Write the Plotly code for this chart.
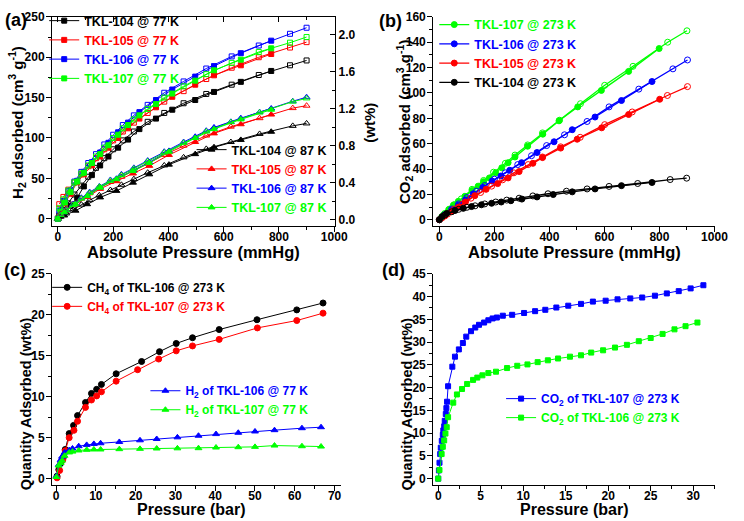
import plotly.graph_objects as go

FONT = "Liberation Sans, Arial, sans-serif"
BLACK, RED, BLUE, GREEN = "#000000", "#FF0000", "#0000FF", "#00FF00"

# ---------------- Panel (a): H2 isotherms (cm3/g) ----------------
P77_ADS = [0, 10, 25, 46, 70, 94, 123, 153, 183, 218, 254, 295, 355, 414, 497, 565, 662, 772]
P77_DES = [900, 840, 727, 629, 537, 455, 385, 325, 275, 235, 200, 168, 138, 110, 85, 60, 38, 20, 5]
TKL104_77_ADS = [0, 4, 8.5, 16, 26, 40, 54, 66, 77, 88, 98, 111, 124, 135, 147, 157, 169.5, 183]
TKL104_77_DES = [196, 190, 178, 166, 154.5, 143, 131, 120, 108, 97, 86, 75, 63, 52, 41, 30, 19, 11, 4]
TKL105_77_ADS = [0, 9, 19, 31, 45, 55, 66, 77, 88, 100, 112, 124, 138, 151, 166, 177.6, 190, 204]
TKL105_77_DES = [218.7, 212, 200, 187, 173, 158, 145, 131, 119, 108, 97, 86, 75, 65, 55, 45, 36, 27, 18]
TKL106_77_ADS = [0, 10, 22, 35, 47, 58, 70, 82, 94, 107, 119, 132, 147, 160, 176, 189, 205, 220.5]
TKL106_77_DES = [236.5, 229, 214.5, 201, 186, 170, 156, 141, 128, 116, 104, 92, 80, 69, 58, 46, 34, 22, 10]
TKL107_77_ADS = [0, 9, 20, 33, 46, 57, 69, 80, 91, 104, 116, 128, 142, 155, 171, 183.8, 197, 211]
TKL107_77_DES = [225, 218, 206.5, 193, 179, 164, 150, 136, 123, 112, 100, 88, 77, 66, 56, 45, 35, 24, 13]

P87_ADS = [0, 23, 64, 106, 153, 212, 272, 331, 402, 497, 565, 662, 772]
P87_DES = [900, 850, 730, 626, 537, 455, 385, 325, 275, 230, 190, 150, 115, 85, 55, 30, 10]
TKL104_87_ADS = [0, 4, 10, 18, 26.4, 34.5, 44.7, 55, 67, 80, 88.5, 97.6, 107.7]
TKL104_87_DES = [118, 115, 105, 95, 86.5, 76, 66, 57, 49, 42, 35.5, 29, 23, 17.5, 11.5, 6.5, 2.5]
TKL105_87_ADS = [0, 8.5, 17.5, 27, 37, 46.5, 56, 65.5, 79, 95, 105.7, 117, 129]
TKL105_87_DES = [140, 137, 124.5, 114, 103, 90.5, 79, 68, 59.5, 52, 45.5, 38.5, 31.5, 25, 18, 11.5, 6]
TKL106_87_ADS = [0, 8, 18, 28.5, 39, 49.5, 60, 70, 84, 101.5, 113, 124.5, 136.5]
TKL106_87_DES = [150.5, 145.5, 132, 120, 109, 95, 83, 72, 63, 55, 48, 40, 33, 26, 18, 11, 5]
TKL107_87_ADS = [0, 8, 18, 28, 38.5, 49, 59, 69, 83, 100, 111, 123, 135]
TKL107_87_DES = [149, 145, 131.5, 119.5, 108, 94, 82, 71, 62, 54, 47, 39.5, 32, 25, 17, 10.5, 4.5]

# right-hand axis of panel (a)
WT_TICKS = [0.0, 0.4, 0.8, 1.2, 1.6, 2.0]

# ---------------- Panel (b): CO2 isotherms at 273 K ----------------
B107_ADS_P = [0, 16, 34, 51, 69, 93, 119, 141, 161, 182, 205, 227, 250, 275, 321, 376, 435, 503, 589, 688, 799]
B107_ADS_Q = [0, 4, 8, 11.5, 14.5, 18.5, 23, 26.5, 30, 33, 37, 41, 45, 49.5, 58, 67.5, 78, 89, 102, 117, 135]
B107_DES_P = [900, 830, 704, 601, 513, 437, 375, 321, 275, 240, 197, 161, 119, 80, 55, 38, 20, 8]
B107_DES_Q = [149, 140, 121, 106, 91.5, 78.5, 68.5, 59, 51, 44.5, 37.5, 31, 24, 16.5, 12, 8.5, 5, 2]
B106_ADS_P = [0, 20, 45, 70, 95, 123, 158, 192, 224, 256, 299, 355, 417, 483, 566, 662, 773]
B106_ADS_Q = [0, 3.5, 7.5, 11.5, 15.5, 20.5, 25.5, 30.5, 34.5, 39, 45, 53, 61.5, 71, 81, 94, 109]
B106_DES_P = [902, 849, 725, 617, 537, 455, 390, 335, 285, 240, 200, 165, 135, 100, 70, 45, 20]
B106_DES_Q = [126, 119, 103, 89, 77.5, 67, 58.5, 50.5, 43.5, 37, 32, 27, 22.5, 17.5, 12.5, 8.5, 4]
B105_ADS_P = [0, 20, 45, 70, 95, 129, 170, 212, 250, 290, 340, 375, 441, 501, 590, 688, 801]
B105_ADS_Q = [0, 3, 6.5, 10, 14, 19, 24, 28.5, 33, 38, 44.5, 49, 56.5, 63.5, 72.5, 83, 95]
B105_DES_P = [902, 829, 701, 601, 512, 441, 375, 323, 271, 230, 190, 150, 115, 85, 55, 30, 10]
B105_DES_Q = [105, 98, 85, 75, 65, 57.5, 49.5, 43.5, 37, 31.5, 26.5, 21.5, 17, 12.5, 8.5, 4.5, 1.5]
B104_ADS_P = [0, 10, 27, 57, 87, 117, 153, 190, 225, 260, 300, 355, 414, 483, 566, 662, 773]
B104_ADS_Q = [0, 2.5, 5, 7.3, 9, 10.4, 11.8, 13, 14, 15, 16.3, 18, 19.9, 22, 24.3, 26.9, 29.4]
B104_DES_P = [899, 839, 721, 617, 537, 462, 395, 340, 290, 245, 205, 165, 130, 100, 70, 45, 20]
B104_DES_Q = [32.8, 31.7, 28.6, 26.3, 24.3, 22.5, 20.5, 18.8, 17, 15.5, 14, 12.5, 11, 9.8, 8.2, 6.3, 3.8]

# ---------------- Panel (c): high pressure CH4 / H2 ----------------
CH4_106_P = [0.25, 0.7, 1.2, 1.9, 2.3, 3.3, 4.4, 5.4, 7.4, 8.9, 10.2, 11.4, 15.1, 21.5, 26, 30.2, 34.3, 41, 50.5, 60.5, 67.1]
CH4_106_Q = [0.3, 1.1, 1.9, 2.7, 3.56, 5.5, 6.5, 7.7, 9.3, 10.4, 10.9, 11.5, 12.8, 14.3, 15.5, 16.5, 17.2, 18.2, 19.4, 20.6, 21.44]
CH4_107_P = [0.25, 0.9, 1.7, 2.3, 3.3, 4.5, 5.4, 7.4, 8.9, 10.2, 11.4, 15.1, 20.5, 25.8, 30.2, 34.3, 41, 50.6, 60.5, 67.1]
CH4_107_Q = [0.1, 1, 2.3, 3.4, 5, 5.9, 7, 8.7, 9.6, 10.1, 10.6, 11.9, 13.3, 14.6, 15.6, 16.2, 17, 18.4, 19.3, 20.2]
H2_P = [0.08, 0.66, 1.16, 1.49, 2.15, 3.3, 4.13, 5.7, 7.7, 9.5, 11.2, 15.9, 21.1, 25.3, 30.5, 35.8, 40.2, 45.8, 50, 54.9, 61.8, 66.6]
H2_106_Q = [0.28, 1.68, 2.28, 2.68, 3.2, 3.48, 3.68, 3.96, 4.12, 4.24, 4.32, 4.48, 4.68, 4.84, 5.04, 5.24, 5.44, 5.6, 5.76, 5.92, 6.16, 6.28]
H2_107_Q = [0.2, 1.6, 1.9, 2.2, 2.8, 3.2, 3.3, 3.44, 3.52, 3.56, 3.56, 3.6, 3.64, 3.68, 3.7, 3.72, 3.8, 3.84, 3.88, 4.04, 3.96, 3.92]

# ---------------- Panel (d): high pressure CO2 ----------------
CO2_107_P = [0, 0.08, 0.15, 0.23, 0.3, 0.42, 0.54, 0.6, 0.7, 0.77, 0.89, 0.96, 1.04, 1.16, 1.66, 1.97, 2.43, 2.9,
             3.3, 3.86, 4.36, 4.8, 5.4, 5.9, 6.4, 6.9, 7.6, 8.7, 10.1, 11.4, 12.6, 13.9, 15.3, 16.8, 18.2, 19.7,
             21.1, 22.6, 24, 25.5, 26.9, 28.3, 29.7, 31.2]
CO2_107_Q = [0, 1.8, 3.5, 5.4, 6.8, 8.3, 9.6, 10.6, 11.5, 12.7, 14.2, 15.5, 16.9, 20.3, 24.6, 26.8, 28.4, 29.8,
             31.2, 32.4, 33.2, 33.8, 34.3, 34.8, 35.2, 35.4, 35.8, 36, 36.4, 36.8, 37.1, 37.6, 38.0, 38.4, 38.9, 39.1,
             39.4, 39.6, 39.8, 40.2, 40.7, 41.2, 41.8, 42.5]
CO2_106_P = [0, 0.15, 0.4, 0.54, 0.7, 0.85, 1, 1.16, 1.77, 2.2, 2.8, 3.4, 4.1, 4.6, 5.2, 5.9, 6.8, 8.1, 9.3, 10.5,
             11.7, 12.9, 14.1, 15.5, 16.8, 18, 19.4, 20.8, 22.2, 23.6, 25, 26.4, 27.8, 29.1, 30.5]
CO2_106_Q = [0, 1.9, 5.4, 7, 8.4, 9.9, 11.3, 13.5, 16.7, 18.5, 19.7, 20.8, 21.7, 22.2, 22.7, 23.2, 23.5, 24.3, 24.8,
             25.1, 25.6, 26, 26.4, 26.8, 27.1, 27.7, 28.2, 28.8, 29.4, 30.2, 30.9, 31.8, 32.8, 33.5, 34.3]


def lbl(text, color):
    return f"<span style='color:{color}'>{text}</span>"


fig = go.Figure()


def add(x, y, color, symbol, size, xa, ya, name=None, legend=None, lw=1.0):
    fig.add_trace(go.Scatter(
        x=x, y=y, mode="lines+markers", xaxis=xa, yaxis=ya,
        line=dict(color=color, width=lw),
        marker=dict(symbol=symbol, size=size, color=color, line=dict(color=color, width=1)),
        name=name if name else "", showlegend=name is not None,
        legend=legend if legend else "legend"))


# Panel (a)
sets77 = [("TKL-104 @ 77 K", BLACK, TKL104_77_ADS, TKL104_77_DES),
          ("TKL-105 @ 77 K", RED, TKL105_77_ADS, TKL105_77_DES),
          ("TKL-106 @ 77 K", BLUE, TKL106_77_ADS, TKL106_77_DES),
          ("TKL-107 @ 77 K", GREEN, TKL107_77_ADS, TKL107_77_DES)]
for nm, c, ads, des in sets77:
    add(P77_ADS, ads, c, "square", 5, "x", "y", lbl(nm, c), "legend")
    add(P77_DES, des, c, "square-open", 5, "x", "y")
sets87 = [("TKL-104 @ 87 K", BLACK, TKL104_87_ADS, TKL104_87_DES),
          ("TKL-105 @ 87 K", RED, TKL105_87_ADS, TKL105_87_DES),
          ("TKL-106 @ 87 K", BLUE, TKL106_87_ADS, TKL106_87_DES),
          ("TKL-107 @ 87 K", GREEN, TKL107_87_ADS, TKL107_87_DES)]
for nm, c, ads, des in sets87:
    add(P87_ADS, ads, c, "triangle-up", 6, "x", "y", lbl(nm, c), "legend2")
    add(P87_DES, des, c, "triangle-up-open", 6, "x", "y")

# invisible traces so the secondary axes of panel (a) get drawn
fig.add_trace(go.Scatter(x=[None], y=[None], xaxis="x", yaxis="y5", mode="markers",
                         showlegend=False, hoverinfo="skip"))
fig.add_trace(go.Scatter(x=[None], y=[None], xaxis="x6", yaxis="y", mode="markers",
                         showlegend=False, hoverinfo="skip"))

# Panel (b)
setsb = [("TKL-107 @ 273 K", GREEN, B107_ADS_P, B107_ADS_Q, B107_DES_P, B107_DES_Q),
         ("TKL-106 @ 273 K", BLUE, B106_ADS_P, B106_ADS_Q, B106_DES_P, B106_DES_Q),
         ("TKL-105 @ 273 K", RED, B105_ADS_P, B105_ADS_Q, B105_DES_P, B105_DES_Q),
         ("TKL-104 @ 273 K", BLACK, B104_ADS_P, B104_ADS_Q, B104_DES_P, B104_DES_Q)]
for nm, c, ap, aq, dp, dq in setsb:
    add(ap, aq, c, "circle", 6, "x2", "y2", lbl(nm, c), "legend3", lw=1.3)
    add(dp, dq, c, "circle-open", 6, "x2", "y2", lw=1.3)

# Panel (c)
add(CH4_106_P, CH4_106_Q, BLACK, "circle", 6, "x3", "y3", lbl("CH<sub>4</sub> of TKL-106 @ 273 K", BLACK), "legend4")
add(CH4_107_P, CH4_107_Q, RED, "circle", 6, "x3", "y3", lbl("CH<sub>4</sub> of TKL-107 @ 273 K", RED), "legend4")
add(H2_P, H2_106_Q, BLUE, "triangle-up", 6, "x3", "y3", lbl("H<sub>2</sub> of TKL-106 @ 77 K", BLUE), "legend5")
add(H2_P, H2_107_Q, GREEN, "triangle-up", 6, "x3", "y3", lbl("H<sub>2</sub> of TKL-107 @ 77 K", GREEN), "legend5")

# Panel (d)
add(CO2_107_P, CO2_107_Q, BLUE, "square", 5, "x4", "y4", lbl("CO<sub>2</sub> of TKL-107 @ 273 K", BLUE), "legend6")
add(CO2_106_P, CO2_106_Q, GREEN, "square", 5, "x4", "y4", lbl("CO<sub>2</sub> of TKL-106 @ 273 K", GREEN), "legend6")

TICKFONT = dict(family=FONT, size=12, color="black", weight="bold")


def axis(domain, rng, dtick, minor, anchor, ticks="outside", **kw):
    d = dict(domain=domain, range=rng, tick0=0, dtick=dtick, anchor=anchor,
             showline=True, linecolor="black", linewidth=1.2, showgrid=False, zeroline=False,
             ticks=ticks, ticklen=5, tickwidth=1.2, tickcolor="black", tickfont=TICKFONT,
             minor=dict(dtick=minor, ticks=ticks, ticklen=3, tickwidth=1, tickcolor="black", showgrid=False))
    d.update(kw)
    return d


W, H = 744, 521
def px(x0, x1):
    return [x0 / W, x1 / W]
def py(top, bottom):
    return [1 - bottom / H, 1 - top / H]


XA = px(53, 341)
XB = px(441, 728)
XC = px(53, 347)
XD = px(441, 728)
YTOP = py(10, 222)
YBOT = py(271, 485)
XS = dict(ticklabelstandoff=-5)
YS = dict(ticklabelstandoff=-1)

fig.update_layout(
    width=W, height=H, margin=dict(l=0, r=0, t=0, b=0),
    paper_bgcolor="white", plot_bgcolor="white",
    font=dict(family=FONT, color="black"),
    xaxis=axis(XA, [-21, 1003], 200, 100, "y", mirror=True, **XS),
    yaxis=axis(YTOP, [-8.5, 250], 50, 25, "x", mirror=True, **YS),
    yaxis5=axis(YTOP, [-0.064, 2.196], 0.4, 0.2, "x", ticks="inside", overlaying="y", side="right",
                tickmode="array", tickvals=WT_TICKS, ticktext=[f"{v:.1f}" for v in WT_TICKS]),
    xaxis6=axis(XA, [-21, 1003], 200, 100, "y", ticks="inside", overlaying="x", side="top",
                showticklabels=False),
    xaxis2=axis(XB, [-22, 1003], 200, 100, "y2", **XS),
    yaxis2=axis(YTOP, [-4.6, 160], 20, 10, "x2", **YS),
    xaxis3=axis(XC, [-1, 71.6], 10, 5, "y3", **XS),
    yaxis3=axis(YBOT, [-0.72, 25], 5, 2.5, "x3", **YS),
    xaxis4=axis(XD, [-0.58, 32.6], 5, 2.5, "y4", **XS),
    yaxis4=axis(YBOT, [-1.3, 45], 5, 2.5, "x4", **YS),
    showlegend=True,
)


def leg(x, ytop, size):
    return dict(x=x / W, y=1 - ytop / H, xanchor="left", yanchor="top", bgcolor="rgba(0,0,0,0)",
                font=dict(family=FONT, size=size, weight="bold", color="black"),
                tracegroupgap=0, itemwidth=30)


fig.update_layout(legend=leg(45, -1, 12.5), legend2=leg(195, 130, 12.5), legend3=leg(442, 3, 12.5),
                  legend4=leg(48, 270, 12), legend5=leg(148, 375, 12), legend6=leg(510, 383, 12))

TFX = dict(family=FONT, size=16.5, color="black", weight="bold")
TFX2 = dict(family=FONT, size=16, color="black", weight="bold")
TFY = dict(family=FONT, size=15, color="black", weight="bold")
TFQ = dict(family=FONT, size=14.5, color="black", weight="bold")
PF = dict(family=FONT, size=18, color="black", weight="bold")
ann = [
    ("(a)", 16, 13, 0, PF), ("(b)", 397, 14, 0, PF), ("(c)", 15, 267, 0, PF), ("(d)", 400, 267, 0, PF),
    ("Absolute Pressure (mmHg)", 197, 249, 0, TFX),
    ("Absolute Pressure (mmHg)", 585, 249, 0, TFX),
    ("Pressure (bar)", 195, 510, 0, TFX2),
    ("Pressure (bar)", 585, 510, 0, TFX2),
    ("H<sub>2</sub> adsorbed (cm<sup>3</sup> g<sup>-1</sup>)", 17, 117, -90, TFY),
    ("(wt%)", 376, 117, -90, TFY),
    ("CO<sub>2</sub> adsorbed (cm<sup>3</sup> g<sup>-1</sup>)", 411, 117, -90, TFY),
    ("Quantity Adsorbed (wt%)", 26, 403, -90, TFQ),
    ("Quantity Adsorbed (wt%)", 414, 403, -90, TFQ),
]
for text, x, y, ang, f in ann:
    fig.add_annotation(text=text, x=x / W, y=1 - y / H, xref="paper", yref="paper",
                       xanchor="center", yanchor="middle", showarrow=False, textangle=ang, font=f)

fig.write_html("out.html", config={"displayModeBar": False},
               post_script="document.body.style.margin='0';document.body.style.overflow='hidden';")
